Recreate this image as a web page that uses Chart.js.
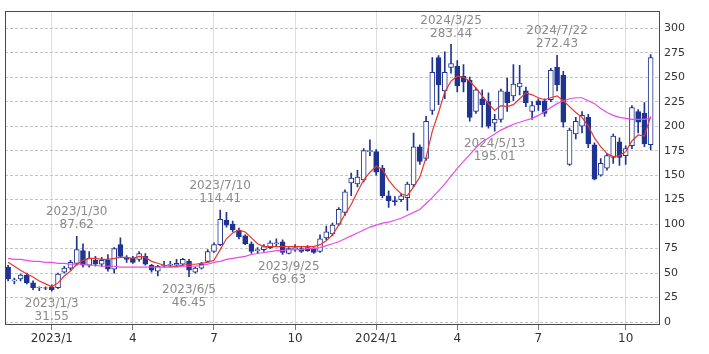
<!DOCTYPE html>
<html>
<head>
<meta charset="utf-8">
<script src="https://cdn.jsdelivr.net/npm/chart.js@4.4.1/dist/chart.umd.min.js"></script>
<style>
html,body{margin:0;padding:0;background:#fff}
#wrap{width:709px;height:354px;position:relative}
</style>
</head>
<body>
<div id="wrap"><canvas id="c"></canvas></div>
<script>
// weekly candles, one per Monday
var weeks=['2022/11/14','2022/11/21','2022/11/28','2022/12/5','2022/12/12','2022/12/19','2022/12/26',
'2023/1/2','2023/1/9','2023/1/16','2023/1/23','2023/1/30','2023/2/6','2023/2/13','2023/2/20','2023/2/27',
'2023/3/6','2023/3/13','2023/3/20','2023/3/27','2023/4/3','2023/4/10','2023/4/17','2023/4/24','2023/5/1',
'2023/5/8','2023/5/15','2023/5/22','2023/5/29','2023/6/5','2023/6/12','2023/6/19','2023/6/26','2023/7/3',
'2023/7/10','2023/7/17','2023/7/24','2023/7/31','2023/8/7','2023/8/14','2023/8/21','2023/8/28','2023/9/4',
'2023/9/11','2023/9/18','2023/9/25','2023/10/2','2023/10/9','2023/10/16','2023/10/23','2023/10/30',
'2023/11/6','2023/11/13','2023/11/20','2023/11/27','2023/12/4','2023/12/11','2023/12/18','2023/12/25',
'2024/1/1','2024/1/8','2024/1/15','2024/1/22','2024/1/29','2024/2/5','2024/2/12','2024/2/19','2024/2/26',
'2024/3/4','2024/3/11','2024/3/18','2024/3/25','2024/4/1','2024/4/8','2024/4/15','2024/4/22','2024/4/29',
'2024/5/6','2024/5/13','2024/5/20','2024/5/27','2024/6/3','2024/6/10','2024/6/17','2024/6/24','2024/7/1',
'2024/7/8','2024/7/15','2024/7/22','2024/7/29','2024/8/5','2024/8/12','2024/8/19','2024/8/26','2024/9/2',
'2024/9/9','2024/9/16','2024/9/23','2024/9/30','2024/10/7','2024/10/14','2024/10/21','2024/10/28','2024/11/4'];

var opens=[56,42,44,48,40,35,35,36,35,51,55,60,73,58,63,59,63,54,79,66,65,64,67,58,52,57,58,58,59,62,
51,55,62,72,79,104,100,94,88,80,73,74,76,80,82,70,75,75,76,75,72,86,90,100,112,142,141,145,174,174,
157,129,124,125,127,140,179,167,216,270,236,260,261,251,247,215,228,225,203,207,235,231,240,236,215,226,
226,227,260,252,161,192,200,209,181,150,157,168,184,170,180,215,213,181];
var highs=[58,45,49,50,42,36,36,38,50,57,63,87.62,80,72,67,66,69,76,86,68,67,72,70,59,58,62,62,64,65,64,
56,61,74,81,114.41,112,103,96,89,82,76,79,83,85,84,76,79,77,78,76,89,98,101,117,135,152,155,177,186,176,
160,134,128,131,143,193,181,210,270,272,276,283.44,267,263,250,239,237,234,212,238,249,263,262,240,225,228,
228,259,272.43,256,198,209,215,212,183,167,172,192,188,180,221,217,224,273];
var lows=[42,39,42,39,33,32,33,31.55,34,50,53,58,56,56,57,57,52,50,66,61,60,62,58,51,47,56,57,57,58,46.45,
50,54,61,71,78,97,92,85,79,70,70,72,75,77,69,69.63,72,71,72,70,71,84,88,99,109,129,138,143,170,150,
127,117,119,123,114,138,161,165,212,222,228,254,235,235,205,213,199,198,195.01,204,215,226,232,220,207,216,
210,225,236,199,160,187,193,178,145,149,155,162,160,161,177,193,179,176];
var closes=[44,43,48,40,35,35.5,34.5,33,49,55,61,74,58,65,59,63,54,75,67,64,61,70,59,53,57,58,59,60,64,53,
55,59,72,79,105,99,94,87,80,72,74,77,81,81,71,75,76,72,73,71,85,92,99,115,133,147,148,175,175,153,
129,124,123,129,141,179,164,205,255,242,255,264,241,245,209,237,222,200,207,236,224,243,244,224,221,222,
213,257,242,204,196,205,211,182,146,162,170,190,168,177,219,204,182,270];

// moving averages as drawn (short = red, long = magenta)
var maShort=[61,57,53,49,46,42,39,36,40,47,52,59,63,65,65,64,64,65,66,66,65,67,66,62,60,58,57,57,58,59,
59,60,61,63,74,85,91,94,92,86,80,77,77,77,77,77,77,77,77,77,79,83,89,99,110,120,133,145,153,159,
156,145,137,131,129,138,148,168,195,214,235,246,251,250,246,239,231,223,216,221,220,222,228,234,232,229,
227,229,231,226,220,214,209,200,188,179,172,169,170,174,185,191,190,210];
var maLong=[65,64,64,63,62,62,61,61,60,60,59,59,59,58,58,57,57,57,56,56,56,56,56,56,56,56,56,56,57,57,
57,58,59,61,62,64,65,66,67,69,70,71,72,73,73,74,74,74,75,75,76,78,80,82,85,88,91,94,97,99,
101,102,104,106,109,112,115,121,127,134,141,149,157,164,171,178,184,188,192,196,199,202,204,206,208,211,
215,219,223,226,228,229,229,226,223,218,214,211,209,208,207,207,207,208];

var tickWeeks=['2023/1/2','2023/4/3','2023/7/3','2023/10/2','2024/1/1','2024/4/1','2024/7/1','2024/10/7'];
var tickLabels=['2023/1','4','7','10','2024/1','4','7','10'];
var yTicks=[0,25,50,75,100,125,150,175,200,225,250,275,300];

// high / low call-outs
var markWeeks=['2023/1/2','2023/1/30','2023/6/5','2023/7/10','2023/9/25','2024/3/25','2024/5/13','2024/7/22'];
var markDates=['2023/1/3','2023/1/30','2023/6/5','2023/7/10','2023/9/25','2024/3/25','2024/5/13','2024/7/22'];
var markValues=[31.55,87.62,46.45,114.41,69.63,283.44,195.01,272.43];

var NAVY='#1f3491';
var FONT='"DejaVu Sans", Verdana, sans-serif';

var labels=weeks.concat(['']);
var wicks=weeks.map(function(w,i){return [lows[i],highs[i]]});
var bodies=weeks.map(function(w,i){return [opens[i],closes[i]]});
var bodyFill=weeks.map(function(w,i){return closes[i]>=opens[i]?'#ffffff':NAVY});

var framePlugin={
  id:'frame',
  afterDraw:function(chart){
    var a=chart.chartArea, ctx=chart.ctx;
    ctx.save();
    ctx.strokeStyle='#4a4a4a';
    ctx.lineWidth=1;
    ctx.strokeRect(Math.round(a.left)+0.5,Math.round(a.top)+0.5,Math.round(a.right-a.left)-1,Math.round(a.bottom-a.top)-1);
    ctx.restore();
  }
};

var markPlugin={
  id:'marks',
  afterDatasetsDraw:function(chart){
    var ctx=chart.ctx, xs=chart.scales.x, ys=chart.scales.y;
    ctx.save();
    ctx.font='12px '+FONT;
    ctx.fillStyle='#8a8a8a';
    ctx.textAlign='center';
    ctx.textBaseline='middle';
    markWeeks.forEach(function(w,k){
      var i=weeks.indexOf(w);
      var x=xs.getPixelForValue(i), y=ys.getPixelForValue(markValues[k]);
      var txt=markValues[k].toFixed(2);
      if(markValues[k]===highs[i]){
        ctx.fillText(markDates[k],x,y-24);
        ctx.fillText(txt,x,y-11);
      }else{
        ctx.fillText(markDates[k],x,y+13);
        ctx.fillText(txt,x,y+26);
      }
    });
    ctx.restore();
  }
};

new Chart(document.getElementById('c'),{
  type:'bar',
  data:{
    labels:labels,
    datasets:[
      {type:'line',data:maShort,borderColor:'#e8352c',borderWidth:1.2,pointRadius:0,order:1},
      {type:'line',data:maLong,borderColor:'#e84ce8',borderWidth:1.2,pointRadius:0,order:1},
      {data:bodies,backgroundColor:bodyFill,borderColor:NAVY,borderWidth:1,borderSkipped:false,
       barThickness:5,grouped:false,order:2},
      {data:wicks,backgroundColor:NAVY,barThickness:1,grouped:false,order:3}
    ]
  },
  options:{
    responsive:true,
    maintainAspectRatio:false,
    animation:false,
    layout:{padding:{left:5,top:5,right:0,bottom:0}},
    plugins:{legend:{display:false},tooltip:{enabled:false}},
    scales:{
      x:{
        offset:true,
        grid:{offset:false,color:'#dedede',tickColor:'#777',tickLength:5},
        border:{display:false},
        ticks:{autoSkip:false,maxRotation:0,padding:2,color:'#333',font:{family:FONT,size:12},
          callback:function(v){var k=tickWeeks.indexOf(weeks[v]);return k<0?'':tickLabels[k]}},
        afterBuildTicks:function(s){s.ticks=tickWeeks.map(function(w){return {value:weeks.indexOf(w)}})},
        afterFit:function(s){s.height=29}
      },
      y:{
        position:'right',
        min:-3,max:318,
        grid:{color:'#c4c4c4',drawTicks:false},
        border:{display:false,dash:[3,2]},
        ticks:{padding:4,color:'#333',font:{family:FONT,size:11}},
        afterBuildTicks:function(s){s.ticks=yTicks.map(function(v){return {value:v}})},
        afterFit:function(s){s.width=49}
      }
    }
  },
  plugins:[framePlugin,markPlugin]
});
</script>
</body>
</html>
